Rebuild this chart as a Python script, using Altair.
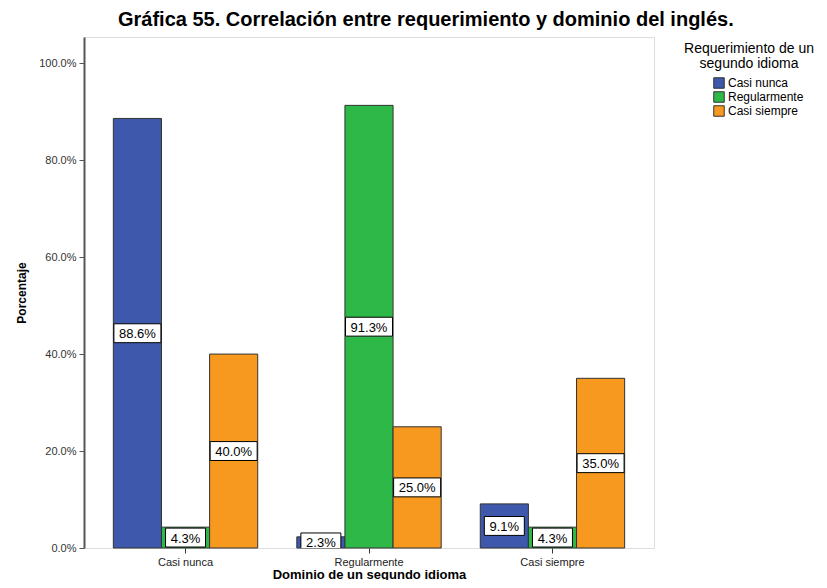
import altair as alt
import pandas as pd

groups = ["Casi nunca", "Regularmente", "Casi siempre"]
series = ["Casi nunca", "Regularmente", "Casi siempre"]
values_casi_nunca = [88.6, 2.3, 9.1]      # series "Casi nunca" across groups
values_regularmente = [4.3, 91.3, 4.3]    # series "Regularmente"
values_casi_siempre = [40.0, 25.0, 35.0]  # series "Casi siempre"
colors = ["#3e58ac", "#2eb848", "#f7981f"]

rows = []
for s, vals in zip(series, [values_casi_nunca, values_regularmente, values_casi_siempre]):
    for g, v in zip(groups, vals):
        rows.append({"grupo": g, "serie": s, "valor": v})
df = pd.DataFrame(rows)

FONT = "Liberation Sans"

x_enc = alt.X("grupo:N", sort=groups,
              scale=alt.Scale(paddingInner=0.213, paddingOuter=0.16),
              axis=alt.Axis(title="Dominio de un segundo idioma", labelAngle=0,
                            labelFontSize=11, labelColor="#222", labelFont=FONT,
                            titleFont=FONT, titleFontSize=13, titleFontWeight="bold",
                            titleColor="#000", titlePadding=1,
                            domain=False, tickSize=5, tickColor="#333",
                            labelPadding=3))
xoff = alt.XOffset("serie:N", sort=series, scale=alt.Scale(paddingInner=0, paddingOuter=0))
y_scale = alt.Scale(domain=[0, 105.4], nice=False)

bars = alt.Chart(df).mark_bar(stroke="#333", strokeWidth=1).encode(
    x=x_enc,
    xOffset=xoff,
    y=alt.Y("valor:Q", scale=y_scale,
            axis=alt.Axis(title="Porcentaje", values=[0, 20, 40, 60, 80, 100],
                          labelExpr="format(datum.value, '.1f') + '%'",
                          labelFontSize=11, labelColor="#333", labelFont=FONT,
                          titleFont=FONT, titleFontSize=12, titleFontWeight="bold",
                          titleColor="#000", titlePadding=10,
                          tickSize=5, tickColor="#555", domainColor="#555",
                          domainWidth=2, grid=False, labelPadding=3)),
    color=alt.Color("serie:N", sort=series,
                    scale=alt.Scale(domain=series, range=colors),
                    legend=alt.Legend(title=["Requerimiento de un", "segundo idioma"],
                                      orient="none", legendX=600, legendY=5,
                                      titleFont=FONT, titleFontSize=14,
                                      titleFontWeight="normal", titleColor="#000",
                                      titleAlign="center", titleAnchor="middle",
                                      titleLineHeight=15,
                                      labelFont=FONT, labelFontSize=12, labelColor="#000",
                                      symbolType="square", symbolSize=110,
                                      symbolStrokeColor="#333", symbolStrokeWidth=1,
                                      symbolOffset=18, labelOffset=3,
                                      rowPadding=-2, titlePadding=6)),
)

labels_base = alt.Chart(df).transform_calculate(
    mid="datum.valor / 2",
    lo="datum.valor / 2 - 1.95",
    hi="datum.valor / 2 + 1.95",
    txt="format(datum.valor, '.1f') + '%'",
    bw="length(format(datum.valor, '.1f') + '%') * 7 + 12",
)

boxes = labels_base.mark_bar(fill="white", stroke="#000", strokeWidth=1, clip=True).encode(
    x=alt.X("grupo:N", sort=groups),
    xOffset=xoff,
    y=alt.Y("lo:Q", scale=y_scale),
    y2="hi:Q",
    size=alt.Size("bw:Q", scale=None, legend=None),
)

texts = labels_base.mark_text(font=FONT, fontSize=13, color="#000",
                              baseline="middle", clip=True, dy=1).encode(
    x=alt.X("grupo:N", sort=groups),
    xOffset=xoff,
    y=alt.Y("mid:Q", scale=y_scale),
    text="txt:N",
)

chart = alt.layer(bars, boxes, texts).properties(
    width=570, height=511,
    title=alt.TitleParams("Gráfica 55. Correlación entre requerimiento y dominio del inglés.",
                          font=FONT, fontSize=20, fontWeight="bold", color="#000",
                          anchor="start", frame="group", dx=34, offset=7),
    autosize=alt.AutoSizeParams(type="none"),
    padding={"left": 76, "top": 29, "right": 165, "bottom": 32},
).configure_view(
    fill="#f0f0f0", stroke="#444", strokeWidth=1
).configure(background="white")

chart.save("out.html", embed_options={"renderer": "svg", "actions": False})
